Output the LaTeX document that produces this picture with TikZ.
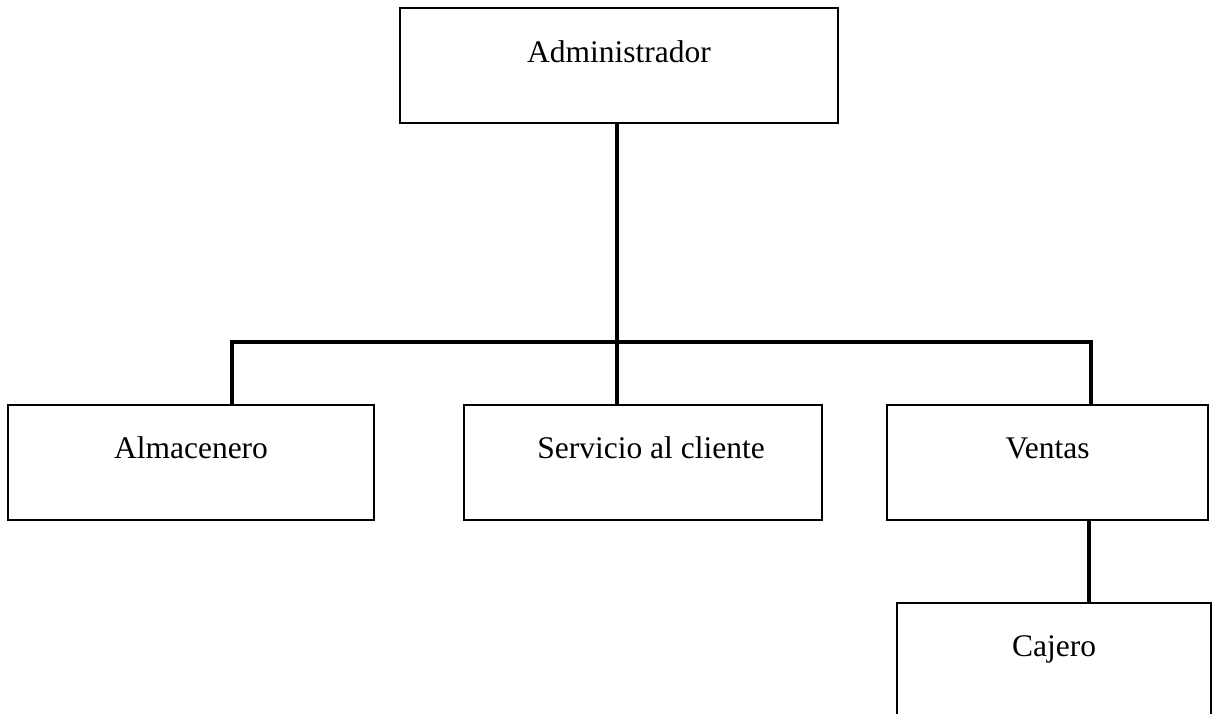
\documentclass[tikz,border=0pt]{standalone}
\usepackage{fontspec}
\setmainfont{Liberation Serif}
\begin{document}
\begin{tikzpicture}[x=1pt,y=-1pt,
  orgbox/.style={draw=black, line width=2pt, rectangle, inner sep=0pt, anchor=base,
    font=\fontsize{31.5}{36}\selectfont},
  link/.style={draw=black, line width=3.6pt, line join=miter}]
\useasboundingbox (0,0) rectangle (1216,714);
\clip (0,0) rectangle (1216,714);
\node[orgbox, minimum width=438pt, text height=54.5pt, text depth=60.5pt] (admin) at (619,62.5) {Administrador};
\node[orgbox, minimum width=366pt, text height=53pt, text depth=62pt] (alm) at (191,458) {Almacenero};
\node[orgbox, minimum width=358pt, text height=53pt, text depth=62pt] (serv) at (643,458) {\hspace*{16pt}Servicio al cliente};
\node[orgbox, minimum width=321pt, text height=53pt, text depth=62pt] (ven) at (1047.5,458) {Ventas};
\node[orgbox, minimum width=314pt, text height=53pt, text depth=64pt] (caj) at (1054,656) {Cajero};
\coordinate (jL) at (232,342);
\coordinate (jC) at (617,342);
\coordinate (jR) at (1091,342);
\coordinate (jV) at (1089,560);
\draw[link] (jL |- alm.north) -- (jL) -- (jR) -- (jR |- ven.north);
\draw[link] (jC |- admin.south) -- (jC |- serv.north);
\draw[link] (jV |- ven.south) -- (jV |- caj.north);
\end{tikzpicture}
\end{document}
